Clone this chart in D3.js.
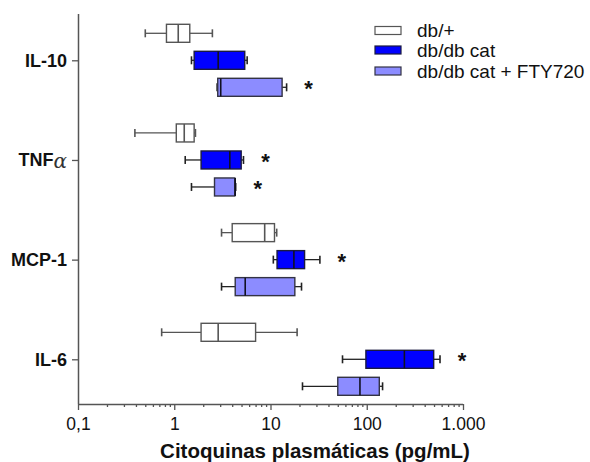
<!DOCTYPE html>
<html>
<head>
<meta charset="utf-8">
<script src="https://cdn.jsdelivr.net/npm/d3@7"></script>
<style>
  html, body { margin: 0; padding: 0; background: #fff; }
  svg { display: block; }
</style>
</head>
<body>
<svg id="chart" width="590" height="462"></svg>
<script>
// Plasma cytokines by group: five-number summaries (pg/mL)
const cytokines = ["IL-10", "TNFα", "MCP-1", "IL-6"];
const groups = ["db/+", "db/db cat", "db/db cat + FTY720"];

// [min, q1, median, q3, max] per cytokine, in the order of `cytokines`
const dbPlus = [
  [0.50, 0.83, 1.10, 1.45, 2.49],
  [0.39, 1.05, 1.27, 1.61, 1.66],
  [3.1, 4.0, 8.7, 11.0, 11.6],
  [0.74, 1.90, 2.86, 7.0, 18.9]
];
const dbdbCat = [
  [1.51, 1.61, 2.86, 5.4, 5.72],
  [1.30, 1.90, 3.78, 4.96, 5.24],
  [10.7, 11.7, 17.5, 22.6, 32.6],
  [56, 98, 246, 496, 577]
];
const dbdbCatFty = [
  [2.79, 2.83, 3.04, 13.2, 14.7],
  [1.51, 2.62, 4.30, 4.25, 4.35],
  [3.1, 4.3, 5.46, 17.9, 21.0],
  [21.5, 50, 85, 135, 146]
];
// significance marks (true = "*")
const signifDbdbCat = [false, true, true, true];
const signifFty = [true, true, false, false];

const xTickValues = [0.1, 1, 10, 100, 1000];
const xTickLabels = ["0,1", "1", "10", "100", "1.000"];
const xTitle = "Citoquinas plasmáticas (pg/mL)";

const fills = ["#ffffff", "#0000ff", "#8c8cff"];
const strokes = ["#555555", "#1a1a40", "#333344"];
const whiskerColors = ["#555555", "#222222", "#222222"];

const svg = d3.select("#chart");
const axisX0 = 78, axisX1 = 463, axisY0 = 14, axisY1 = 404;

const x = d3.scaleLog().domain([0.1, 1000]).range([axisX0, axisX1]);
const y = d3.scalePoint().domain(cytokines).range([60.3, 359.3]);
const offset = d3.scalePoint().domain(groups).range([-27, 27]);
const boxH = 18, capH = 8;

const series = [dbPlus, dbdbCat, dbdbCatFty];
const signif = [cytokines.map(() => false), signifDbdbCat, signifFty];

const rows = [];
groups.forEach((g, gi) => {
  cytokines.forEach((c, ci) => {
    const [mn, q1, md, q3, mx] = series[gi][ci];
    rows.push({ g, gi, c, mn, q1, md, q3, mx, star: signif[gi][ci] });
  });
});

const plot = svg.append("g");
const box = plot.selectAll("g.box").data(rows).join("g")
  .attr("class", "box")
  .attr("transform", d => `translate(0,${y(d.c) + offset(d.g)})`);

// whiskers
box.append("line")
  .attr("x1", d => x(d.mn)).attr("x2", d => x(Math.min(d.q1, d.q3)))
  .attr("stroke", d => whiskerColors[d.gi]).attr("stroke-width", 1.3);
box.append("line")
  .attr("x1", d => x(Math.max(d.q1, d.q3))).attr("x2", d => x(d.mx))
  .attr("stroke", d => whiskerColors[d.gi]).attr("stroke-width", 1.3);
box.selectAll("line.cap").data(d => [d.mn, d.mx].map(v => ({ v, gi: d.gi }))).join("line")
  .attr("class", "cap")
  .attr("x1", e => x(e.v)).attr("x2", e => x(e.v))
  .attr("y1", -capH / 2).attr("y2", capH / 2)
  .attr("stroke", e => whiskerColors[e.gi]).attr("stroke-width", 1.6);

// boxes
box.append("rect")
  .attr("x", d => x(Math.min(d.q1, d.q3)))
  .attr("width", d => Math.abs(x(d.q3) - x(d.q1)))
  .attr("y", -boxH / 2).attr("height", boxH)
  .attr("fill", d => fills[d.gi])
  .attr("stroke", d => strokes[d.gi]).attr("stroke-width", 1.4);
// medians
box.append("line")
  .attr("x1", d => x(d.md)).attr("x2", d => x(d.md))
  .attr("y1", -boxH / 2).attr("y2", boxH / 2)
  .attr("stroke", d => d.gi === 0 ? "#555555" : "#111122").attr("stroke-width", 1.6);

// significance asterisks
box.filter(d => d.star).append("text")
  .attr("x", d => x(d.mx) + 22).attr("y", 9)
  .attr("text-anchor", "middle")
  .attr("font-family", "Liberation Sans, Arial, sans-serif")
  .attr("font-weight", "bold").attr("font-size", 22)
  .attr("fill", "#111")
  .text("*");

// x axis with decade labels and minor ticks
const minorTicks = [];
for (let e = -1; e < 3; e++) for (let m = 2; m <= 9; m++) minorTicks.push(m * Math.pow(10, e));
const xAxisG = svg.append("g").attr("transform", `translate(0,${axisY1})`);
xAxisG.call(d3.axisBottom(x).tickValues(minorTicks).tickSize(3).tickFormat(""))
  .call(g => g.select(".domain").remove());
const xMajor = svg.append("g").attr("transform", `translate(0,${axisY1})`)
  .call(d3.axisBottom(x).tickValues(xTickValues).tickSize(6).tickPadding(8)
    .tickFormat((d, i) => xTickLabels[i]));
svg.selectAll("g.tick line").attr("stroke", "#555").attr("stroke-width", 1.3);
xMajor.select(".domain").attr("stroke", "#555").attr("stroke-width", 1.5)
  .attr("d", `M${axisX0},0.5H${axisX1}`);
xMajor.selectAll("text")
  .attr("font-family", "Liberation Sans, Arial, sans-serif")
  .attr("font-size", 17.5).attr("fill", "#111");

svg.append("text")
  .attr("x", 315).attr("y", 458)
  .attr("text-anchor", "middle")
  .attr("font-family", "Liberation Sans, Arial, sans-serif")
  .attr("font-weight", "bold").attr("font-size", 20.5).attr("fill", "#111")
  .text(xTitle);

// y axis with category labels
const yAxisG = svg.append("g").attr("transform", `translate(${axisX0},0)`)
  .call(d3.axisLeft(y).tickSize(6).tickPadding(4).tickFormat(""));
yAxisG.select(".domain").attr("stroke", "#555").attr("stroke-width", 1.5)
  .attr("d", `M0.5,${axisY0}V${axisY1}`);
yAxisG.selectAll(".tick line").attr("stroke", "#555").attr("stroke-width", 1.3);

const yLabels = svg.append("g").selectAll("text").data(cytokines).join("text")
  .attr("x", axisX0 - 11).attr("y", d => y(d) + 6.5)
  .attr("text-anchor", "end")
  .attr("font-family", "Liberation Sans, Arial, sans-serif")
  .attr("font-weight", "bold").attr("font-size", 18).attr("fill", "#111");
yLabels.each(function (d) {
  const t = d3.select(this);
  if (d.endsWith("α")) {
    t.append("tspan").text(d.slice(0, -1));
    t.append("tspan").attr("font-weight", "normal").attr("font-size", 20)
      .attr("font-family", "DejaVu Serif, serif").attr("font-style", "italic")
      .attr("fill", "#333").attr("dy", 2).text("α");
  } else {
    t.text(d);
  }
});

// legend
const legend = svg.append("g").selectAll("g").data(groups).join("g")
  .attr("transform", (d, i) => `translate(375,${[30.5, 50, 71][i]})`);
legend.append("rect")
  .attr("x", 0).attr("y", -4).attr("width", 26).attr("height", 8)
  .attr("fill", (d, i) => fills[i]).attr("stroke", (d, i) => strokes[i]).attr("stroke-width", 1.2);
legend.append("text")
  .attr("x", 42).attr("y", 6.5)
  .attr("font-family", "Liberation Sans, Arial, sans-serif")
  .attr("font-size", 19).attr("fill", "#111")
  .text(d => d);
</script>
</body>
</html>
